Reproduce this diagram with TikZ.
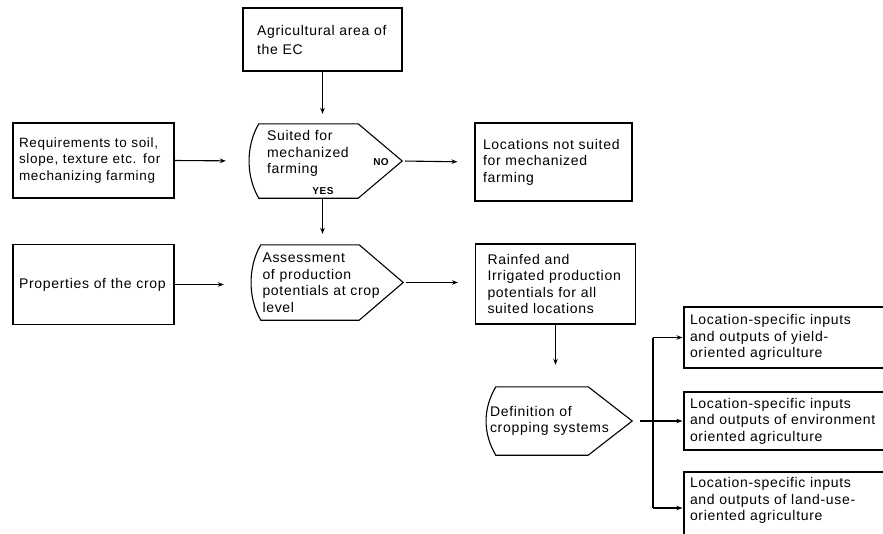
\documentclass[tikz,border=0pt]{standalone}
\usepackage{fontspec}
\setmainfont{Liberation Sans}[LetterSpace=5]
\usetikzlibrary{arrows.meta}
\begin{document}
\begin{tikzpicture}[x=1pt,y=-1pt,
  every node/.style={font=\fontsize{14}{16.5}\selectfont},
  box/.style={draw, line width=1.1pt, align=left, inner sep=0pt},
  decshape/.style={inner sep=0pt, align=left,
    append after command={\pgfextra{\draw[line width=1.1pt, line join=miter]
      ([xshift=10pt]\tikzlastnode.north west) -- ([xshift=-44pt]\tikzlastnode.north east)
      -- (\tikzlastnode.east) -- ([xshift=-44pt]\tikzlastnode.south east)
      -- ([xshift=10pt]\tikzlastnode.south west)
      .. controls ([xshift=-3pt,yshift=22pt]\tikzlastnode.south west)
      and ([xshift=-3pt,yshift=-22pt]\tikzlastnode.north west) .. cycle;}}},
  arr/.style={line width=1.1pt, -{Stealth[length=6pt,width=4.5pt]}},
  con/.style={line width=1.1pt},
  flag/.style={font=\fontsize{10}{12}\selectfont\bfseries, inner sep=0pt}]
\useasboundingbox (0,0) rectangle (883,533);
\clip (0,0) rectangle (883,533);

\node[box, minimum width=159pt, minimum height=63pt, text width=131pt,
  font=\fontsize{14}{19}\selectfont] (agri) at (322.5,39.5) {Agricultural area of\\the EC};
\node[box, minimum width=161pt, minimum height=75pt, text width=149pt,
  font=\fontsize{13.5}{16.5}\selectfont] (req) at (93.5,160.5)
  {Requirements to soil,\\slope, texture etc. for\\mechanizing farming};
\node[decshape, minimum width=153pt, minimum height=74pt, text width=117pt, text depth=51pt] (dec1) at (325.5,161)
  {Suited for\\mechanized\\farming};
\node[flag] (no) at (381,162) {NO};
\node[flag] (yes) at (323,191) {YES};
\node[box, minimum width=157pt, minimum height=78pt, text width=141pt] (loc) at (553.5,162)
  {Locations not suited\\for mechanized\\farming};

\node[box, minimum width=161pt, minimum height=80pt, text width=149pt] (prop) at (93.5,284.5)
  {Properties of the crop};
\node[decshape, minimum width=152pt, minimum height=75pt, text width=129pt] (dec2) at (327,282.5)
  {Assessment\\of production\\potentials at crop\\level};
\node[box, minimum width=160pt, minimum height=80pt, text width=136pt] (rain) at (555.5,284)
  {Rainfed and\\Irrigated production\\potentials for all\\suited locations};

\node[decshape, minimum width=146pt, minimum height=68pt, text width=138pt] (dec3) at (559,421)
  {Definition of\\cropping systems};

\node[box, minimum width=206pt, minimum height=61pt, text width=194pt] (out1) at (787,337.5)
  {Location-specific inputs\\and outputs of yield-\\oriented agriculture};
\node[box, minimum width=206pt, minimum height=58pt, text width=194pt] (out2) at (787,421)
  {Location-specific inputs\\and outputs of environment\\oriented agriculture};
\node[box, minimum width=206pt, minimum height=72pt, text width=194pt, text depth=51pt] (out3) at (787,508)
  {Location-specific inputs\\and outputs of land-use-\\oriented agriculture};

\draw[arr, shorten >=10pt] (agri.south) -- (agri.south |- dec1.north);
\draw[arr, shorten >=23pt] (req.east) -- (dec1.west);
\draw[arr, shorten <=3pt, shorten >=17pt] (dec1.east) -- (loc.west);
\draw[arr, shorten >=11pt] (dec1.south -| agri.south) -- (agri.south |- dec2.north);
\draw[arr, shorten >=27pt] (prop.east) -- (prop.east -| dec2.west);
\draw[arr, shorten <=3pt, shorten >=17pt] (dec2.east) -- (dec2.east -| rain.west);
\draw[arr, shorten >=22pt] (rain.south) -- (rain.south |- dec3.north);

\coordinate (br) at (653,421);
\draw[arr, shorten <=8pt, shorten >=1pt] (dec3.east) -- (out2.west);
\draw[con] (br |- out1.west) -- (br |- out3.west);
\draw[arr, shorten >=1pt] (br |- out1.west) -- (out1.west);
\draw[arr, shorten >=1pt] (br |- out3.west) -- (out3.west);
\end{tikzpicture}
\end{document}
